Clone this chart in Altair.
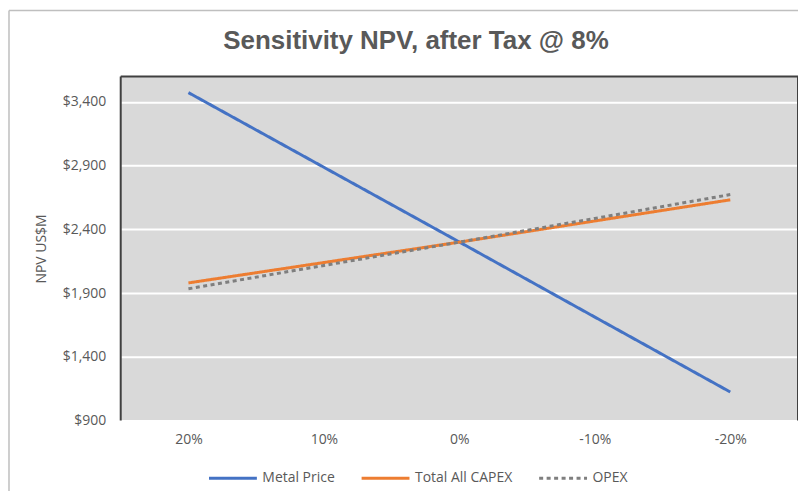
import altair as alt
import pandas as pd

pct_labels = ["20%", "10%", "0%", "-10%", "-20%"]
metal_price = [3473, 2887, 2301, 1712, 1124]
total_capex = [1980, 2140, 2300, 2466, 2632]
opex = [1934, 2117, 2300, 2486, 2673]
series_names = ["Metal Price", "Total All CAPEX", "OPEX"]
y_ticks = [900, 1400, 1900, 2400, 2900, 3400]
title_text = ["Sensitivity NPV, after Tax @ 8%"]

rows = []
for name, vals in zip(series_names, [metal_price, total_capex, opex]):
    for i, (p, v) in enumerate(zip(pct_labels, vals)):
        rows.append({"pct": p, "npv": v, "series": name, "order": i})
df = pd.DataFrame(rows)

W, H = 679, 345
FONT = "Open Sans"
GREY = "#595959"
FS = 14

lines = alt.Chart(df).mark_line(strokeWidth=3, strokeCap="butt").encode(
    x=alt.X("pct:N", sort=pct_labels, title=None,
            scale=alt.Scale(type="point", padding=0.5),
            axis=alt.Axis(labelAngle=0, domain=False, ticks=False, grid=False,
                          labelPadding=12, labelFontSize=FS, labelColor=GREY,
                          labelFont=FONT)),
    y=alt.Y("npv:Q", title="NPV US$M",
            scale=alt.Scale(domain=[900, 3600], nice=False, zero=False),
            axis=alt.Axis(values=y_ticks, format="$,.0f", domain=False, ticks=False,
                          gridColor="white", gridWidth=2, gridOpacity=1,
                          labelPadding=15, labelFontSize=FS, labelColor=GREY,
                          labelFont=FONT, titleFont=FONT, titleFontSize=FS,
                          titleColor=GREY, titleFontWeight="normal", titlePadding=14)),
    color=alt.Color("series:N", sort=series_names,
                    scale=alt.Scale(domain=series_names,
                                    range=["#4472C4", "#ED7D31", "#7F7F7F"]),
                    legend=alt.Legend(title=None, orient="none", direction="horizontal",
                                      legendX=87, legendY=377,
                                      symbolType="stroke", symbolSize=2304,
                                      symbolStrokeWidth=3, labelFont=FONT,
                                      labelFontSize=FS, labelColor=GREY,
                                      columnPadding=20, labelOffset=4)),
    strokeDash=alt.StrokeDash("series:N", sort=series_names,
                              scale=alt.Scale(domain=series_names,
                                              range=[[1, 0], [1, 0], [4, 3.5]]),
                              legend=None),
    order="order:Q",
)

border_dark = alt.Chart(pd.DataFrame({"a": [0]})).mark_rule(color="#404040", strokeWidth=2)
left_b = border_dark.encode(x=alt.value(0), y=alt.value(0), y2=alt.value(H))
top_b = border_dark.encode(x=alt.value(0), x2=alt.value(W), y=alt.value(0))
right_b = border_dark.encode(x=alt.value(W), y=alt.value(0), y2=alt.value(H))

outer = alt.Chart(pd.DataFrame({"a": [0]})).mark_rule(color="#BFBFBF", strokeWidth=1.5)
outer_left = outer.encode(x=alt.value(-112), y=alt.value(-66), y2=alt.value(430))
outer_top = outer.encode(x=alt.value(-112), x2=alt.value(W + 10), y=alt.value(-66))

title = alt.Chart(pd.DataFrame({"t": title_text})).mark_text(
    font="Liberation Sans", fontSize=26, fontWeight="bold", color=GREY,
    align="center", baseline="alphabetic"
).encode(text="t:N", x=alt.value(296), y=alt.value(-28))

chart = alt.layer(lines, left_b, top_b, right_b, outer_left, outer_top, title).properties(
    width=W, height=H,
    autosize=alt.AutoSizeParams(type="none"),
    padding={"left": 113, "top": 68, "right": 0, "bottom": 70},
    background="white",
).configure_view(fill="#D9D9D9", stroke=None)

chart.save("out.html", embed_options={"renderer": "svg", "actions": False})
